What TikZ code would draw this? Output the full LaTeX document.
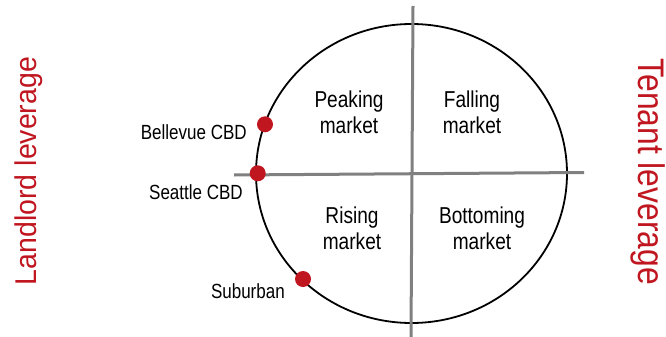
\documentclass[tikz,border=0pt]{standalone}
\usepackage{fontspec}
\usetikzlibrary{shapes.geometric}
\setmainfont{Liberation Sans}
\newfontfamily\narrowfont[FakeStretch=0.83]{Liberation Sans}
\newfontfamily\sidefontL[FakeStretch=0.95]{Liberation Sans}
\newfontfamily\sidefontR[FakeStretch=0.86]{Liberation Sans}
\definecolor{leverred}{RGB}{192,22,32}
\definecolor{axisgray}{RGB}{128,128,128}
\begin{document}
\begin{tikzpicture}[x=1pt,y=-1pt,
  quad/.style={inner sep=0pt,anchor=base,align=center,
    font=\narrowfont\fontsize{23}{26}\selectfont},
  city/.style={inner sep=0pt,anchor=base east,
    font=\narrowfont\fontsize{20.5}{23}\selectfont},
  dot/.style={circle,fill=leverred,draw=none,minimum size=16pt,inner sep=0pt},
  axis/.style={draw=axisgray,line width=3pt},
  side/.style={inner sep=0pt,anchor=base,text=leverred}]
  \useasboundingbox (0,0) rectangle (666,337);

  % cycle and axes
  \node[draw,ellipse,line width=1.8pt,minimum width=311pt,minimum height=299pt,inner sep=0pt] (cycle) at (411.5,173.5) {};
  \coordinate (vtop) at (413,6);
  \coordinate (vbot) at (411,337);
  \coordinate (hleft) at (234,175);
  \coordinate (hright) at (584,172.5);
  \draw[axis] (vtop) -- (vbot);
  \draw[axis] (hleft) -- (hright);

  % phases (positioned by the baseline of the last line)
  \node[quad] (peaking) at (349,133.3) {Peaking\\market};
  \node[quad] (falling) at (472,133.3) {Falling\\market};
  \node[quad] (rising) at (352,249.7) {Rising\\market};
  \node[quad] (bottoming) at (482,249.3) {Bottoming\\market};

  % markets
  \node[dot] (bellevue) at (265,124.3) {};
  \node[dot] (seattle) at (257.7,173.3) {};
  \node[dot] (suburban) at (303,279) {};
  \node[city] (bellevuelbl) at (247,139.3) {Bellevue CBD};
  \node[city] (seattlelbl) at (243,199) {Seattle CBD};
  \node[city] (suburbanlbl) at (285,298.3) {Suburban};

  % leverage captions
  \node[side,rotate=90,font=\sidefontL\fontsize{30}{34}\selectfont] (landlord) at (36,171) {Landlord leverage};
  \node[side,rotate=-90,font=\sidefontR\fontsize{37}{42}\selectfont] (tenant) at (638,171.7) {Tenant leverage};
\end{tikzpicture}
\end{document}
